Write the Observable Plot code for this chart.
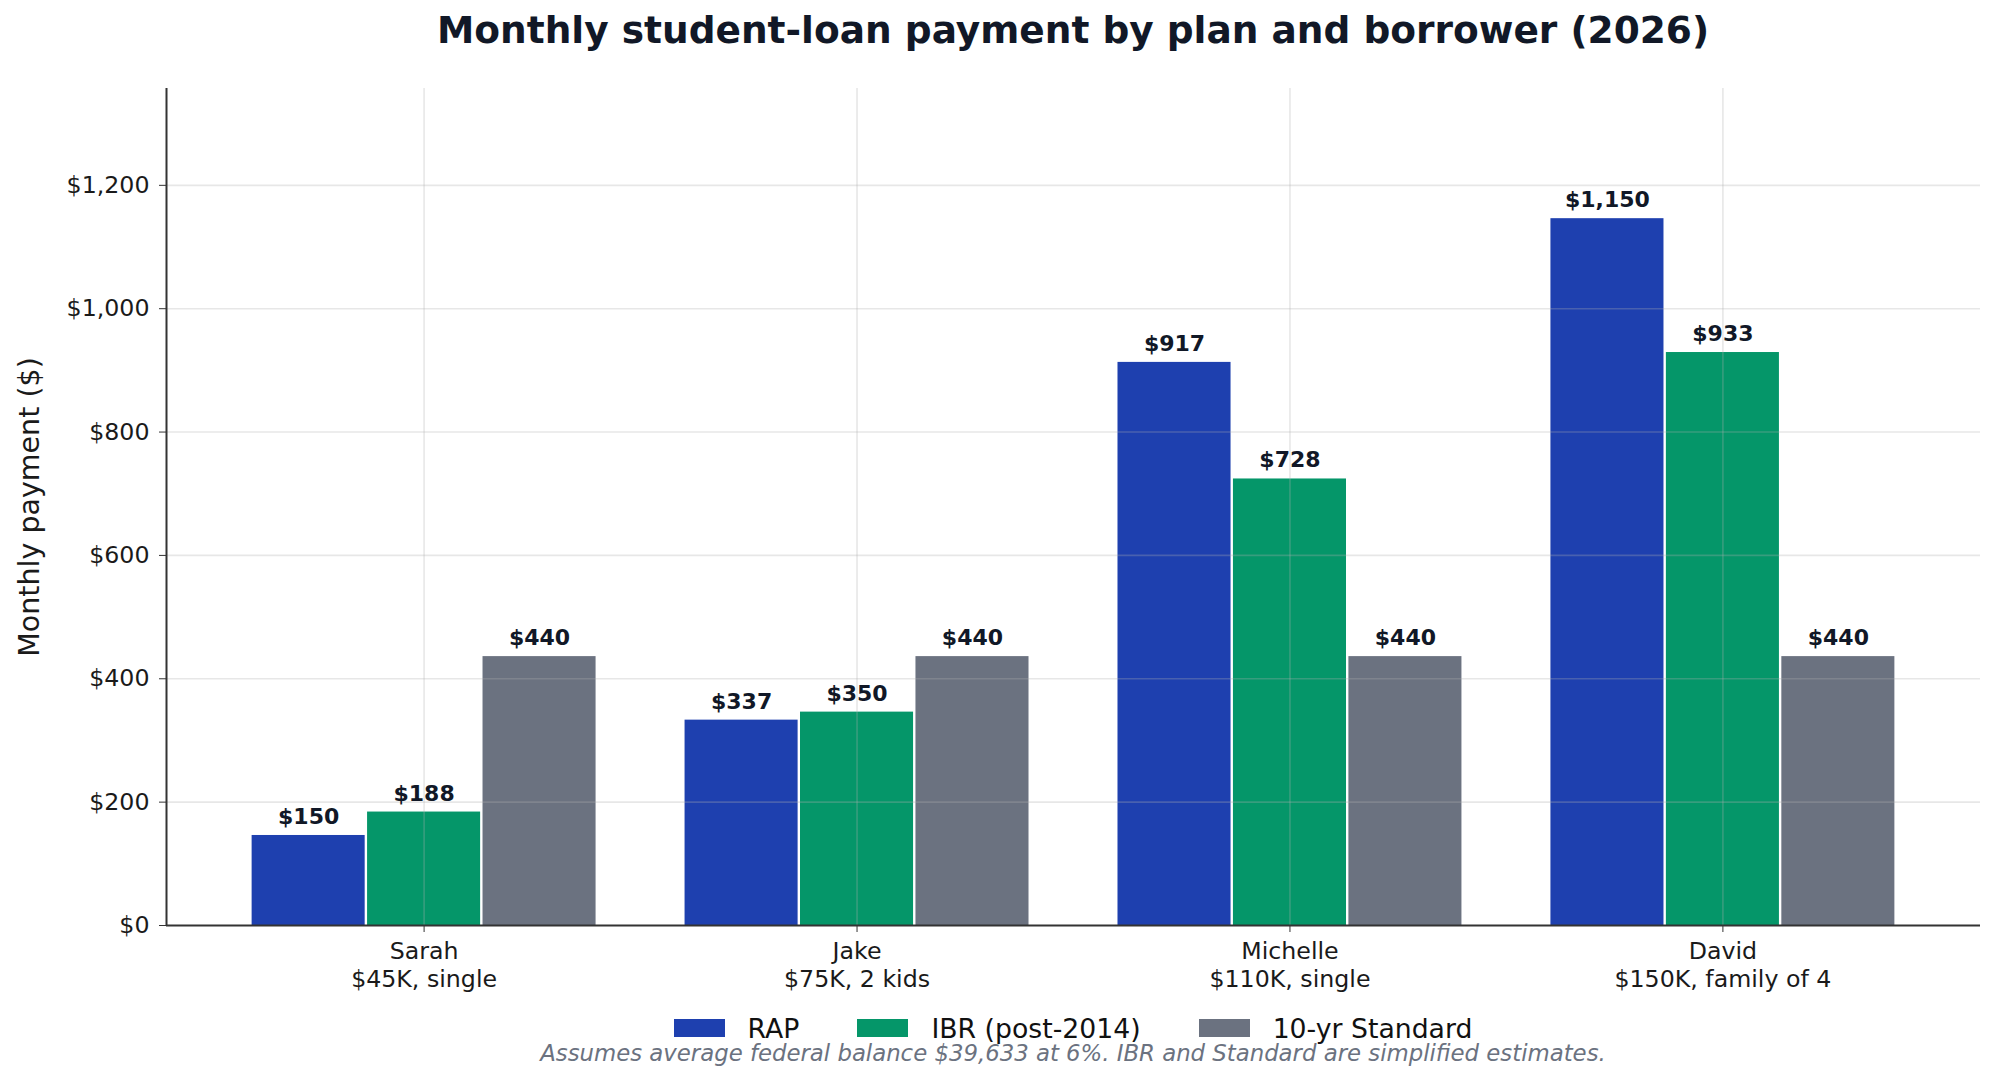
<!DOCTYPE html>
<html>
<head>
<meta charset="utf-8">
<script src="https://cdn.jsdelivr.net/npm/d3@7"></script>
<script src="https://cdn.jsdelivr.net/npm/@observablehq/plot@0.6"></script>
<style>
  html, body { margin: 0; padding: 0; background: #fff; }
  body { width: 1994px; height: 1080px; position: relative; overflow: hidden; font-family: "DejaVu Sans", sans-serif; }
  #title { position: absolute; left: 166px; width: 1814px; top: 0; height: 60px; line-height: 60px; text-align: center;
           font-weight: bold; font-size: 37.5px; color: #111827; }
  #chart { position: absolute; left: 0; top: 60px; }
  #legend { position: absolute; left: 166px; width: 1814px; top: 1014px; height: 28px; display: flex; justify-content: center; align-items: center;
            font-size: 26.7px; line-height: 27px; color: #111; }
  .item { display: flex; align-items: center; margin: 0 29px; }
  .item span { line-height: 27px; }
  .sw { width: 51px; height: 18px; margin-right: 23px; }
  #caption { position: absolute; left: 166px; width: 1814px; top: 1042px; height: 23px; line-height: 23px; text-align: center;
             font-style: italic; font-size: 22.8px; color: #6b7280; }
</style>
</head>
<body>
<div id="title">Monthly student-loan payment by plan and borrower (2026)</div>
<div id="chart"></div>
<div id="legend"></div>
<div id="caption">Assumes average federal balance $39,633 at 6%. IBR and Standard are simplified estimates.</div>
<script>
// ---- data ----
const borrowers = ["Sarah", "Jake", "Michelle", "David"];
const profiles = ["$45K, single", "$75K, 2 kids", "$110K, single", "$150K, family of 4"];
const plans = ["RAP", "IBR (post-2014)", "10-yr Standard"];
const rap = [150, 337, 917, 1150];
const ibr = [188, 350, 728, 933];
const standard = [440, 440, 440, 440];
const planColors = ["#1e40af", "#059669", "#6b7280"];
const yTicks = [0, 200, 400, 600, 800, 1000, 1200];
const yMax = 1357;
const xDomain = [-0.595, 3.595];

const series = [rap, ibr, standard];
const bw = 0.8 / 3;
const rows = [];
borrowers.forEach((b, i) => plans.forEach((p, j) => rows.push({i, j, borrower: b, plan: p, value: series[j][i]})));
const money = d3.format(",");
const xCenter = d => d.i + (d.j - 1) * bw;

const chart = Plot.plot({
  width: 1994,
  height: 940,
  marginTop: 28,
  marginBottom: 75,
  marginLeft: 166,
  marginRight: 14,
  style: {fontFamily: "DejaVu Sans, sans-serif", fontSize: "23.7px", color: "#1a1a1a", background: "#fff", overflow: "visible"},
  x: {type: "linear", domain: xDomain, axis: null},
  y: {domain: [0, yMax], axis: null},
  color: {domain: plans, range: planColors},
  marks: [
    Plot.rect(rows, {
      x1: d => d.i + (d.j - 1.5) * bw,
      x2: d => d.i + (d.j - 0.5) * bw,
      y1: 0, y2: "value",
      fill: "plan",
      insetLeft: 1.2, insetRight: 1.2, insetTop: 2.5
    }),
    Plot.gridY(yTicks.slice(1), {stroke: "#b0b0b0", strokeOpacity: 0.3, strokeWidth: 1.6}),
    Plot.gridX([0, 1, 2, 3], {stroke: "#b0b0b0", strokeOpacity: 0.3, strokeWidth: 1.6}),
    Plot.text(rows, {
      x: xCenter, y: "value", text: d => "$" + money(d.value),
      lineAnchor: "bottom", dy: -9, fontWeight: "bold", fontSize: 22, fill: "#111827"
    }),
    Plot.axisY(yTicks, {
      tickFormat: d => "$" + money(d), tickSize: 7, tickPadding: 10, fontSize: 23.7,
      label: null, stroke: "#333"
    }),
    Plot.axisX([0, 1, 2, 3], {
      tickFormat: i => borrowers[i] + "\n" + profiles[i], tickSize: 7, tickPadding: 6,
      fontSize: 23.7, lineHeight: 1.19, label: null, stroke: "#333"
    }),
    Plot.ruleY([0], {stroke: "#333", strokeWidth: 2}),
    Plot.ruleX([xDomain[0]], {stroke: "#333", strokeWidth: 2}),
    Plot.text(["Monthly payment ($)"], {
      frameAnchor: "left", textAnchor: "middle", dx: -137, rotate: -90, fontSize: 28.5, fill: "#1a1a1a"
    })
  ]
});
document.getElementById("chart").appendChild(chart);

const legend = document.getElementById("legend");
plans.forEach((p, j) => {
  const item = document.createElement("div");
  item.className = "item";
  const sw = document.createElement("div");
  sw.className = "sw";
  sw.style.background = planColors[j];
  const t = document.createElement("span");
  t.textContent = p;
  item.appendChild(sw);
  item.appendChild(t);
  legend.appendChild(item);
});
</script>
</body>
</html>
